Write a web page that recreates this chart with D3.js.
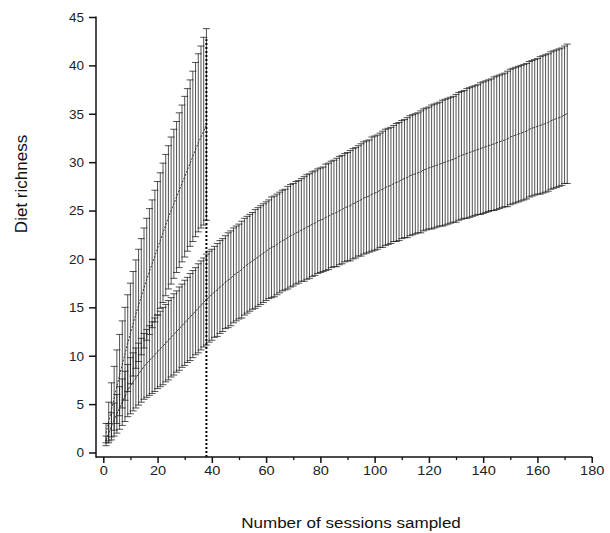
<!DOCTYPE html>
<html>
<head>
<meta charset="utf-8">
<script src="https://cdn.jsdelivr.net/npm/d3@7"></script>
<style>
  body { margin: 0; background: #fff; }
  svg { display: block; font-family: Arial, "Liberation Sans", sans-serif; }
</style>
</head>
<body>
<div id="chart"></div>
<script>
// series A: steep curve, sessions 1..38
const meanA = [2.0,3.2,4.4,5.6,6.8,8.0,9.1,10.2,11.3,12.3,
  13.3,14.3,15.2,16.1,17.0,17.9,18.7,19.5,20.3,21.1,
  21.9,22.7,23.5,24.3,25.0,25.7,26.4,27.1,27.8,28.5,
  29.2,29.9,30.6,31.3,32.0,32.6,33.2,33.9];
const errA = [1.0,2.0,2.8,3.3,3.8,4.2,4.5,4.8,5.0,5.2,
  5.4,5.6,5.8,6.0,6.2,6.3,6.5,6.6,6.8,6.9,
  7.0,7.2,7.3,7.4,7.6,7.7,7.8,8.0,8.1,8.3,
  8.4,8.6,8.8,9.0,9.2,9.4,9.7,9.9];

// series B: slow curve, sessions 1..171
const meanB = [1.2,2.0,2.7,3.4,4.0,4.6,5.2,5.8,6.4,6.9,
  7.3,7.7,8.1,8.5,8.9,9.2,9.5,9.8,10.1,10.4,
  10.7,11.0,11.3,11.6,11.9,12.2,12.5,12.8,13.1,13.4,
  13.7,14.0,14.3,14.6,14.9,15.2,15.5,15.8,16.1,16.3,
  16.6,16.8,17.1,17.3,17.6,17.8,18.0,18.3,18.5,18.7,
  18.9,19.2,19.4,19.6,19.8,20.0,20.2,20.4,20.6,20.8,
  21.0,21.2,21.3,21.5,21.7,21.9,22.0,22.2,22.4,22.5,
  22.7,22.8,23.0,23.1,23.3,23.4,23.6,23.7,23.9,24.0,
  24.1,24.3,24.4,24.6,24.7,24.8,25.0,25.1,25.3,25.4,
  25.5,25.7,25.8,26.0,26.1,26.3,26.4,26.5,26.7,26.8,
  26.9,27.1,27.2,27.4,27.5,27.6,27.8,27.9,28.0,28.2,
  28.3,28.4,28.6,28.7,28.8,28.9,29.0,29.2,29.3,29.4,
  29.5,29.6,29.7,29.8,29.9,30.0,30.1,30.2,30.3,30.4,
  30.6,30.7,30.8,30.9,31.0,31.1,31.2,31.3,31.4,31.5,
  31.6,31.7,31.8,31.9,32.0,32.1,32.2,32.3,32.4,32.6,
  32.7,32.8,32.9,33.0,33.1,33.2,33.4,33.5,33.6,33.7,
  33.8,33.9,34.0,34.1,34.3,34.4,34.5,34.6,34.7,34.9,35.0];
const errB = [0.5,1.0,1.4,1.7,2.0,2.2,2.4,2.6,2.7,2.9,
  3.0,3.1,3.2,3.3,3.4,3.5,3.6,3.7,3.8,3.8,
  3.9,4.0,4.0,4.1,4.1,4.2,4.2,4.3,4.3,4.4,
  4.4,4.5,4.5,4.5,4.6,4.6,4.6,4.7,4.7,4.7,
  4.7,4.8,4.8,4.8,4.8,4.9,4.9,4.9,4.9,4.9,
  5.0,5.0,5.0,5.0,5.0,5.1,5.1,5.1,5.1,5.1,
  5.1,5.2,5.2,5.2,5.2,5.2,5.2,5.3,5.3,5.3,
  5.3,5.3,5.3,5.4,5.4,5.4,5.4,5.4,5.4,5.4,
  5.4,5.5,5.5,5.5,5.5,5.6,5.6,5.6,5.6,5.6,
  5.7,5.7,5.7,5.7,5.8,5.8,5.8,5.8,5.9,5.9,
  5.9,5.9,6.0,6.0,6.0,6.0,6.0,6.1,6.1,6.1,
  6.1,6.2,6.2,6.2,6.2,6.2,6.3,6.3,6.3,6.3,
  6.4,6.4,6.4,6.4,6.5,6.5,6.5,6.5,6.5,6.6,
  6.6,6.6,6.6,6.7,6.7,6.7,6.7,6.7,6.8,6.8,
  6.8,6.8,6.8,6.9,6.9,6.9,6.9,6.9,7.0,7.0,
  7.0,7.0,7.0,7.0,7.0,7.0,7.0,7.0,7.0,7.0,
  7.1,7.1,7.1,7.1,7.1,7.1,7.1,7.1,7.1,7.1,7.2];

const xTicks = [0,20,40,60,80,100,120,140,160,180];
const yTicks = [0,5,10,15,20,25,30,35,40,45];
const cutoff = 38;   // dotted vertical marker
const cutoffTop = 42.7;

const width = 610, height = 533;

const x = d3.scaleLinear().domain([0, 180]).range([103.3, 591.7]);
const y = d3.scaleLinear().domain([0, 45]).range([452.5, 17]);

const svg = d3.select("#chart").append("svg")
    .attr("width", width)
    .attr("height", height);

svg.append("rect").attr("width", width).attr("height", height).attr("fill", "#fff");

const toPoints = (means, errs) => means.map((m, i) => ({ n: i + 1, m: m, e: errs[i] }));
const ptsA = toPoints(meanA, errA);
const ptsB = toPoints(meanB, errB);

const drawBars = (pts, cls) => {
  const g = svg.append("g").attr("class", cls).attr("stroke", "#1a1a1a").attr("stroke-width", 0.75);
  const bar = g.selectAll("g").data(pts).join("g");
  bar.append("line")
      .attr("x1", d => x(d.n)).attr("x2", d => x(d.n))
      .attr("y1", d => y(d.m - d.e)).attr("y2", d => y(d.m + d.e));
  bar.append("line")
      .attr("x1", d => x(d.n) - 3.5).attr("x2", d => x(d.n) + 3.5)
      .attr("y1", d => y(d.m + d.e)).attr("y2", d => y(d.m + d.e));
  bar.append("line")
      .attr("x1", d => x(d.n) - 3.5).attr("x2", d => x(d.n) + 3.5)
      .attr("y1", d => y(d.m - d.e)).attr("y2", d => y(d.m - d.e));
};

drawBars(ptsB, "barsB");
drawBars(ptsA, "barsA");

const line = d3.line().x(d => x(d.n)).y(d => y(d.m));

svg.append("path").datum(ptsB)
    .attr("d", line)
    .attr("fill", "none")
    .attr("stroke", "#222")
    .attr("stroke-width", 0.8)
    .attr("stroke-dasharray", "3,1");

svg.append("path").datum(ptsA)
    .attr("d", line)
    .attr("fill", "none")
    .attr("stroke", "#222")
    .attr("stroke-width", 0.9)
    .attr("stroke-dasharray", "2,1.5");

// dotted marker at 38 sessions
svg.append("line")
    .attr("x1", x(cutoff)).attr("x2", x(cutoff))
    .attr("y1", 457).attr("y2", y(cutoffTop))
    .attr("stroke", "#000")
    .attr("stroke-width", 2)
    .attr("stroke-dasharray", "2,2");

// axes
const axisColor = "#111";
svg.append("line")
    .attr("x1", 96).attr("x2", x(180) + 0.5)
    .attr("y1", 457).attr("y2", 457)
    .attr("stroke", axisColor).attr("stroke-width", 1.5);
svg.append("line")
    .attr("x1", 96).attr("x2", 96)
    .attr("y1", y(45) - 0.5).attr("y2", 457.7)
    .attr("stroke", axisColor).attr("stroke-width", 1.5);

const xAxis = svg.append("g")
    .attr("transform", "translate(0,457)")
    .call(d3.axisBottom(x).tickValues(xTicks).tickSize(6).tickSizeOuter(0).tickPadding(3).tickFormat(d3.format("d")));
xAxis.select(".domain").remove();
xAxis.selectAll(".tick line").attr("stroke", axisColor).attr("stroke-width", 1.5);
xAxis.selectAll(".tick text")
    .attr("fill", "#222")
    .style("font-size", "13px")
    .attr("transform", "scale(1.12,1)")
    .attr("dy", "0.72em");

const xMinor = svg.append("g")
    .attr("transform", "translate(0,457)")
    .call(d3.axisBottom(x).tickValues(xTicks.slice(0, -1).map(v => v + 10)).tickSize(3).tickSizeOuter(0).tickFormat(""));
xMinor.select(".domain").remove();
xMinor.selectAll(".tick line").attr("stroke", axisColor).attr("stroke-width", 1.3);

const yAxis = svg.append("g")
    .attr("transform", "translate(96,0)")
    .call(d3.axisLeft(y).tickValues(yTicks).tickSize(7).tickSizeOuter(0).tickPadding(5));
yAxis.select(".domain").remove();
yAxis.selectAll(".tick line").attr("stroke", axisColor).attr("stroke-width", 1.5);
yAxis.selectAll(".tick text")
    .attr("fill", "#222")
    .style("font-size", "13.5px");

// titles
svg.append("text")
    .attr("transform", "translate(27,184) rotate(-90)")
    .attr("text-anchor", "middle")
    .style("font-size", "17px")
    .attr("fill", "#111")
    .text("Diet richness");

svg.append("text")
    .attr("transform", "translate(351,528) scale(1.1,1)")
    .attr("text-anchor", "middle")
    .style("font-size", "15.5px")
    .attr("fill", "#111")
    .text("Number of sessions sampled");
</script>
</body>
</html>
